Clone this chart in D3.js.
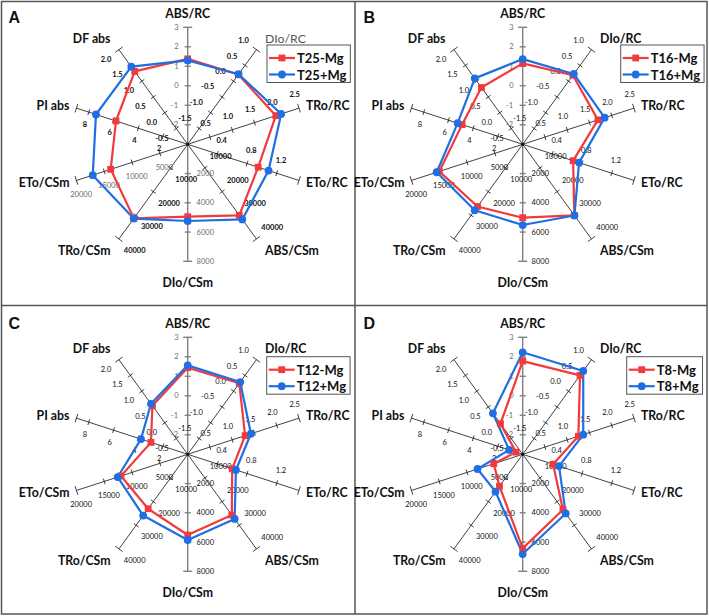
<!DOCTYPE html>
<html><head><meta charset="utf-8">
<script src="https://cdn.jsdelivr.net/npm/d3@7"></script>
<style>body{margin:0;background:#fff} svg{display:block}</style>
</head><body>
<script>
// ---------------- data ----------------
const axes = ["ABS/RC","DIo/RC","TRo/RC","ETo/RC","ABS/CSm","DIo/CSm","TRo/CSm","ETo/CSm","PI abs","DF abs"];
const axisMin = [-3, -2, 0, 0, 0, 0, 0, 0, 0, -1];
const axisMax = [3, 1, 2.5, 1.5, 40000, 8000, 40000, 20000, 9, 2];
const tickValues = [
  [-2,-1,0,1,2,3],
  [-1.5,-1,-0.5,0,0.5,1],
  [0.5,1,1.5,2,2.5],
  [0.4,0.8,1.2],
  [10000,20000,30000,40000],
  [2000,4000,6000,8000],
  [10000,20000,30000,40000],
  [5000,10000,15000,20000],
  [2,4,6,8],
  [-0.5,0,0.5,1,1.5,2]
];
const tickFormats = ["d",".1f",".1f",".1f","d","d","d","d","d",".1f"];
const panelLetters = ["A","B","C","D"];
const seriesNames = [["T25-Mg","T25+Mg"],["T16-Mg","T16+Mg"],["T12-Mg","T12+Mg"],["T8-Mg","T8+Mg"]];
const t25Minus = [1.38, 0.21, 1.98, 0.95, 30000, 4950, 31300, 13840, 5.8, 1.31];
const t25Plus  = [1.30, 0.22, 2.10, 1.09, 31750, 5245, 31400, 17070, 7.42, 1.46];
const t16Minus = [1.15, 0.19, 1.69, 0.68, 30000, 5020, 26300, 14990, 4.9, 0.80];
const t16Plus  = [1.37, 0.23, 1.84, 0.76, 30100, 5520, 27900, 15460, 5.26, 1.09];
const t12Minus = [1.44, 0.25, 1.29, 0.60, 25650, 5520, 23000, 11990, 2.97, 0.54];
const t12Plus  = [1.56, 0.29, 1.42, 0.65, 27300, 5860, 25900, 12580, 3.78, 0.60];
const t8Minus  = [1.78, 0.50, 1.25, 0.41, 23400, 6430, 13500, 5200, 0.54, -0.03];
const t8Plus   = [2.23, 0.64, 1.36, 0.49, 25000, 6820, 15800, 8120, 1.10, 0.30];
const panelSeries = [[t25Minus,t25Plus],[t16Minus,t16Plus],[t12Minus,t12Plus],[t8Minus,t8Plus]];

// ---------------- layout / style ----------------
const W = 709, H = 616, R = 117;
const frames = [[0,0],[355,0],[0,306],[355,306]];
const centers = [[187.7,144.3],[167.7,144.3],[187.7,148.3],[167.7,148.3]];
const legendPos = [[267,45],[265.7,45],[266.7,50.7],[271.7,50.7]];
const RED = "#f23a3c", BLUE = "#1f6fe3";
const FONT = "Lato, 'Open Sans', 'Liberation Sans', sans-serif";

const loc = d3.formatLocale({decimal:".", thousands:",", grouping:[3], currency:["$",""], minus:"-"});

const svg = d3.select("body").append("svg").attr("width", W).attr("height", H)
  .style("font-family", FONT);

// frames
svg.append("rect").attr("x",1.5).attr("y",1.5).attr("width",W-3.5).attr("height",H-3.5)
  .attr("fill","none").attr("stroke","#555").attr("stroke-width",1.5);
svg.append("line").attr("x1",355).attr("x2",355).attr("y1",1.5).attr("y2",H-2)
  .attr("stroke","#555").attr("stroke-width",1.5);
svg.append("line").attr("x1",1.5).attr("x2",W-2).attr("y1",305.5).attr("y2",305.5)
  .attr("stroke","#555").attr("stroke-width",1.5);

const scales = axes.map((a,i) => d3.scaleLinear().domain([axisMin[i], axisMax[i]]).range([0, R]));
const ang = i => i * 2 * Math.PI / axes.length;
const dir = i => [Math.sin(ang(i)), -Math.cos(ang(i))];

panelLetters.forEach((letter, p) => {
  const [fx, fy] = frames[p];
  const [cx, cy] = centers[p];
  const g = svg.append("g").attr("transform", `translate(${fx + cx},${fy + cy})`);
  const pt = (i, v) => { const r = scales[i](v); const d = dir(i); return [d[0]*r, d[1]*r]; };

  // panel letter
  svg.append("text").attr("x", fx + 8.5).attr("y", fy + 23).text(letter)
    .attr("font-size", 16).attr("font-weight", 900).attr("fill", "#111")
    .style("font-family", "'Liberation Sans', Arial, sans-serif");

  // axes
  axes.forEach((a, i) => {
    const d = dir(i), perp = [-d[1], d[0]];
    const isVert = (i === 0 || i === 5);
    const col = isVert ? "#808080" : "#111";
    const sw = isVert ? 1.4 : 0.8;
    g.append("line").attr("x1",0).attr("y1",0).attr("x2",d[0]*R).attr("y2",d[1]*R)
      .attr("stroke", col).attr("stroke-width", sw);
    // ticks
    tickValues[i].forEach(v => {
      const [x, y] = pt(i, v);
      const L = (v === axisMax[i]) ? 4.5 : 3;
      g.append("line").attr("x1", x - perp[0]*L).attr("y1", y - perp[1]*L)
        .attr("x2", x + perp[0]*L).attr("y2", y + perp[1]*L)
        .attr("stroke", col).attr("stroke-width", sw);
    });
    if (!tickValues[i].includes(axisMax[i])) {
      const [x, y] = [d[0]*R, d[1]*R];
      g.append("line").attr("x1", x - perp[0]*4.5).attr("y1", y - perp[1]*4.5)
        .attr("x2", x + perp[0]*4.5).attr("y2", y + perp[1]*4.5)
        .attr("stroke", col).attr("stroke-width", sw);
    }
    // tick labels
    const off = [-Math.cos(ang(i)), -Math.sin(ang(i))];
    const fmt = loc.format(tickFormats[i]);
    const greyAxis = (i === 0) || (p === 0 && (i === 5 || i === 7));
    tickValues[i].forEach(v => {
      const [x, y] = pt(i, v);
      const s = fmt(v);
      const tw = s.length * 4.3;
      const dist = 9 + 0.5 * tw * Math.abs(off[0]) + 3 * Math.abs(off[1]);
      g.append("text").attr("x", x + off[0]*dist).attr("y", y + off[1]*dist)
        .attr("text-anchor","middle").attr("dominant-baseline","central")
        .attr("font-size", 7.5)
        .attr("font-weight", greyAxis ? 400 : (p === 0 ? 700 : 400))
        .attr("fill", greyAxis ? "#6d6d6d" : "#111")
        .text(s);
    });
    // axis title
    const ex = d[0]*R, ey = d[1]*R;
    let tx, ty, anchor;
    if (i === 0) { tx = ex; ty = ey - 14; anchor = "middle"; }
    else if (i === 5) { tx = ex; ty = ey + 21; anchor = "middle"; }
    else {
      const dd = 3 + 14 * Math.abs(Math.cos(ang(i)));
      tx = ex + d[0]*dd; ty = ey + d[1]*dd; anchor = d[0] > 0 ? "start" : "end";
    }
    const lightTitle = (p === 0 && i === 1);
    g.append("text").attr("x", tx).attr("y", ty).attr("text-anchor", anchor)
      .attr("dominant-baseline","central").attr("font-size", 12.3)
      .attr("font-weight", lightTitle ? 400 : 700)
      .attr("fill", lightTitle ? "#555" : "#111").text(a);
  });
  g.append("circle").attr("r",1.6).attr("fill","#111");

  // series
  const colors = [RED, BLUE];
  const line = d3.line().curve(d3.curveLinearClosed);
  panelSeries[p].forEach((vals, s) => {
    const pts = vals.map((v, i) => pt(i, v));
    g.append("path").attr("d", line(pts)).attr("fill","none")
      .attr("stroke", colors[s]).attr("stroke-width", 2.2).attr("stroke-linejoin","round");
  });
  panelSeries[p].forEach((vals, s) => {
    vals.forEach((v, i) => {
      const [x, y] = pt(i, v);
      if (s === 0) g.append("rect").attr("x", x-3.4).attr("y", y-3.4).attr("width",6.8).attr("height",6.8).attr("fill", RED);
      else g.append("circle").attr("cx", x).attr("cy", y).attr("r", 3.9).attr("fill", BLUE);
    });
  });

  // legend
  const [lx0, ly0] = legendPos[p];
  const lx = fx + lx0, ly = fy + ly0;
  const lg = svg.append("g");
  const box = lg.append("rect").attr("x", lx).attr("y", ly).attr("height", 37.5)
    .attr("fill","#fff").attr("stroke","#555").attr("stroke-width",1);
  let maxW = 0;
  seriesNames[p].forEach((nm, s) => {
    const yy = ly + 13 + s * 16.5;
    lg.append("line").attr("x1", lx + 2).attr("x2", lx + 28).attr("y1", yy).attr("y2", yy)
      .attr("stroke", colors[s]).attr("stroke-width", 2.2);
    if (s === 0) lg.append("rect").attr("x", lx+15-3.4).attr("y", yy-3.4).attr("width",6.8).attr("height",6.8).attr("fill", RED);
    else lg.append("circle").attr("cx", lx+15).attr("cy", yy).attr("r", 3.9).attr("fill", BLUE);
    const t = lg.append("text").attr("x", lx + 30).attr("y", yy).attr("dominant-baseline","central")
      .attr("font-size", 13).attr("font-weight", 700).attr("fill","#111").text(nm);
    maxW = Math.max(maxW, t.node().getComputedTextLength());
  });
  box.attr("width", 30 + maxW + 4);
});
</script>
</body></html>
